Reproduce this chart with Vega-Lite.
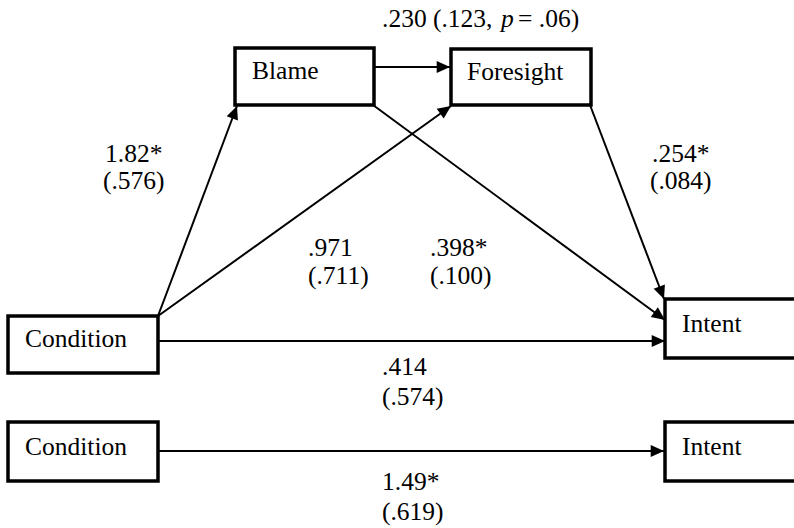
{
  "$schema": "https://vega.github.io/schema/vega-lite/v6.json",
  "width": 794,
  "height": 528,
  "padding": 0,
  "autosize": {"type": "none"},
  "background": "white",
  "config": {"view": {"stroke": null}, "font": "Liberation Serif"},
  "datasets": {
    "boxes": [
      {"node": "Blame", "x": 235, "x2": 374, "y": 48, "y2": 105},
      {"node": "Foresight", "x": 451, "x2": 591, "y": 49, "y2": 105},
      {"node": "Condition (top)", "x": 8, "x2": 158, "y": 316, "y2": 373},
      {"node": "Intent (top)", "x": 665, "x2": 800, "y": 299, "y2": 358},
      {"node": "Condition (bottom)", "x": 8, "x2": 158, "y": 422, "y2": 481},
      {"node": "Intent (bottom)", "x": 665, "x2": 800, "y": 422, "y2": 481}
    ],
    "paths": [
      {"from": "Condition", "to": "Blame", "x": 158, "y": 316, "x2": 237, "y2": 106},
      {"from": "Condition", "to": "Foresight", "x": 158, "y": 316, "x2": 451, "y2": 106},
      {"from": "Blame", "to": "Foresight", "x": 374, "y": 67, "x2": 450, "y2": 67},
      {"from": "Blame", "to": "Intent", "x": 373, "y": 105, "x2": 665, "y2": 320},
      {"from": "Foresight", "to": "Intent", "x": 590, "y": 105, "x2": 664, "y2": 299},
      {"from": "Condition", "to": "Intent", "x": 158, "y": 341, "x2": 665, "y2": 341},
      {"from": "Condition (total)", "to": "Intent (total)", "x": 158, "y": 451, "x2": 664, "y2": 451}
    ],
    "labels": [
      {"label": "Blame", "x": 252, "y": 79},
      {"label": "Foresight", "x": 467, "y": 80},
      {"label": "Condition", "x": 25, "y": 347},
      {"label": "Intent", "x": 682, "y": 332},
      {"label": "Condition", "x": 25, "y": 455},
      {"label": "Intent", "x": 682, "y": 455},
      {"label": ".230 (.123,", "x": 382, "y": 27},
      {"label": "= .06)", "x": 518, "y": 27},
      {"label": "1.82*", "x": 105, "y": 162},
      {"label": "(.576)", "x": 103, "y": 189},
      {"label": ".254*", "x": 652, "y": 162},
      {"label": "(.084)", "x": 650, "y": 189},
      {"label": ".971", "x": 308, "y": 256},
      {"label": "(.711)", "x": 308, "y": 284},
      {"label": ".398*", "x": 430, "y": 256},
      {"label": "(.100)", "x": 430, "y": 284},
      {"label": ".414", "x": 382, "y": 375},
      {"label": "(.574)", "x": 382, "y": 405},
      {"label": "1.49*", "x": 382, "y": 490},
      {"label": "(.619)", "x": 382, "y": 520}
    ],
    "italic": [
      {"label": "p", "x": 501, "y": 27}
    ]
  },
  "layer": [
    {
      "data": {"name": "paths"},
      "mark": {"type": "rule", "color": "black", "strokeWidth": 2},
      "encoding": {
        "x": {"field": "x", "type": "quantitative", "scale": {"domain": [0, 794], "nice": false, "zero": false}, "axis": null},
        "y": {"field": "y", "type": "quantitative", "scale": {"domain": [0, 528], "nice": false, "zero": false, "reverse": true}, "axis": null},
        "x2": {"field": "x2"},
        "y2": {"field": "y2"}
      }
    },
    {
      "data": {"name": "paths"},
      "transform": [
        {"calculate": "atan2(datum.x2 - datum.x, datum.y - datum.y2) * 180 / PI", "as": "angle"}
      ],
      "mark": {"type": "point", "shape": "M0,0L-0.95,2.1L0.95,2.1Z", "filled": true, "color": "black", "opacity": 1, "size": 160, "strokeWidth": 0},
      "encoding": {
        "x": {"field": "x2", "type": "quantitative"},
        "y": {"field": "y2", "type": "quantitative"},
        "angle": {"field": "angle", "type": "quantitative", "scale": null}
      }
    },
    {
      "data": {"name": "boxes"},
      "mark": {"type": "rect", "fill": "white", "stroke": "black", "strokeWidth": 3.5},
      "encoding": {
        "x": {"field": "x", "type": "quantitative"},
        "x2": {"field": "x2"},
        "y": {"field": "y", "type": "quantitative"},
        "y2": {"field": "y2"}
      }
    },
    {
      "data": {"name": "labels"},
      "mark": {"type": "text", "align": "left", "baseline": "alphabetic", "font": "Liberation Serif", "fontSize": 25.5, "color": "black"},
      "encoding": {
        "x": {"field": "x", "type": "quantitative"},
        "y": {"field": "y", "type": "quantitative"},
        "text": {"field": "label"}
      }
    },
    {
      "data": {"name": "italic"},
      "mark": {"type": "text", "align": "left", "baseline": "alphabetic", "font": "Liberation Serif", "fontStyle": "italic", "fontSize": 25.5, "color": "black"},
      "encoding": {
        "x": {"field": "x", "type": "quantitative"},
        "y": {"field": "y", "type": "quantitative"},
        "text": {"field": "label"}
      }
    }
  ]
}
